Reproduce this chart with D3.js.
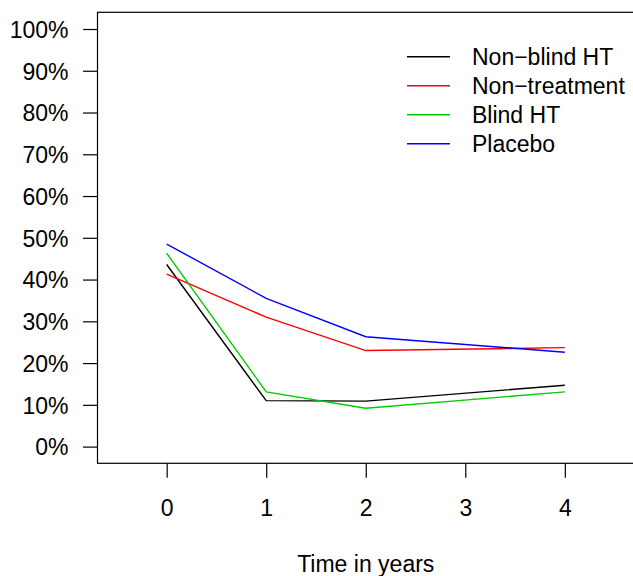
<!DOCTYPE html>
<html>
<head>
<meta charset="utf-8">
<script src="https://cdn.jsdelivr.net/npm/d3@7"></script>
<style>
  body { margin: 0; background: #fff; }
  svg { display: block; font-family: "Liberation Sans", Arial, Helvetica, sans-serif; }
</style>
</head>
<body>
<div id="chart"></div>
<script>
const width = 633, height = 576;

// years of follow-up and share per group
const years = [0, 1, 2, 4];
const xTicks = [0, 1, 2, 3, 4];
const yTicks = [0, 0.1, 0.2, 0.3, 0.4, 0.5, 0.6, 0.7, 0.8, 0.9, 1];
const seriesNames = ["Non\u2212blind HT", "Non\u2212treatment", "Blind HT", "Placebo"];
const seriesColors = ["#000000", "#ff0000", "#00cd00", "#0000ff"];
const nonBlindHT = [0.436, 0.110, 0.109, 0.147];
const nonTreatment = [0.413, 0.310, 0.230, 0.237];
const blindHT = [0.463, 0.131, 0.092, 0.131];
const placebo = [0.485, 0.355, 0.263, 0.226];
const seriesValues = [nonBlindHT, nonTreatment, blindHT, placebo];

const plot = { left: 97.5, right: 634, top: 12.3, bottom: 463.3 };

const x = d3.scaleLinear().domain([-0.695, 4.695]).range([plot.left, plot.right]);
const y = d3.scaleLinear().domain([-0.04, 1.04]).range([plot.bottom, plot.top]);

const svg = d3.select("#chart").append("svg")
    .attr("width", width)
    .attr("height", height)
    .attr("viewBox", [0, 0, width, height]);

// plot box
svg.append("rect")
    .attr("x", plot.left)
    .attr("y", plot.top)
    .attr("width", plot.right - plot.left)
    .attr("height", plot.bottom - plot.top)
    .attr("fill", "none")
    .attr("stroke", "#000")
    .attr("stroke-width", 1.2);

const yAxis = svg.append("g")
    .attr("transform", `translate(${plot.left},0)`)
    .call(d3.axisLeft(y).tickValues(yTicks).tickSize(14.5).tickPadding(14.5)
        .tickFormat(d => Math.round(d * 100) + "%"));

const xAxis = svg.append("g")
    .attr("transform", `translate(0,${plot.bottom})`)
    .call(d3.axisBottom(x).tickValues(xTicks).tickSize(14.5).tickPadding(21.5)
        .tickFormat(d3.format("d")));

for (let axis of [xAxis, yAxis]) {
    axis.select(".domain").remove();
    axis.selectAll(".tick line").attr("stroke", "#000").attr("stroke-width", 1.2);
    axis.selectAll(".tick text")
        .attr("fill", "#000")
        .style("font-size", "23px")
        .style("font-family", "\"Liberation Sans\", Arial, Helvetica, sans-serif");
}
yAxis.selectAll(".tick text").attr("dy", "0.36em");

svg.append("text")
    .attr("x", (plot.left + plot.right) / 2)
    .attr("y", 571.5)
    .attr("text-anchor", "middle")
    .style("font-size", "23px")
    .text("Time in years");

const line = d3.line()
    .x((d, i) => x(years[i]))
    .y(d => y(d));

svg.append("g")
    .selectAll("path")
    .data(seriesValues)
    .join("path")
    .attr("d", line)
    .attr("fill", "none")
    .attr("stroke", (d, i) => seriesColors[i])
    .attr("stroke-width", 1.4);

// legend
const legend = svg.append("g")
    .selectAll("g")
    .data(seriesNames)
    .join("g")
    .attr("transform", (d, i) => `translate(407,${56.7 + i * 29})`);

legend.append("line")
    .attr("x1", 0)
    .attr("x2", 43)
    .attr("stroke", (d, i) => seriesColors[i])
    .attr("stroke-width", 1.4);

legend.append("text")
    .attr("x", 65)
    .attr("dy", "0.36em")
    .style("font-size", "23px")
    .text(d => d);
</script>
</body>
</html>
